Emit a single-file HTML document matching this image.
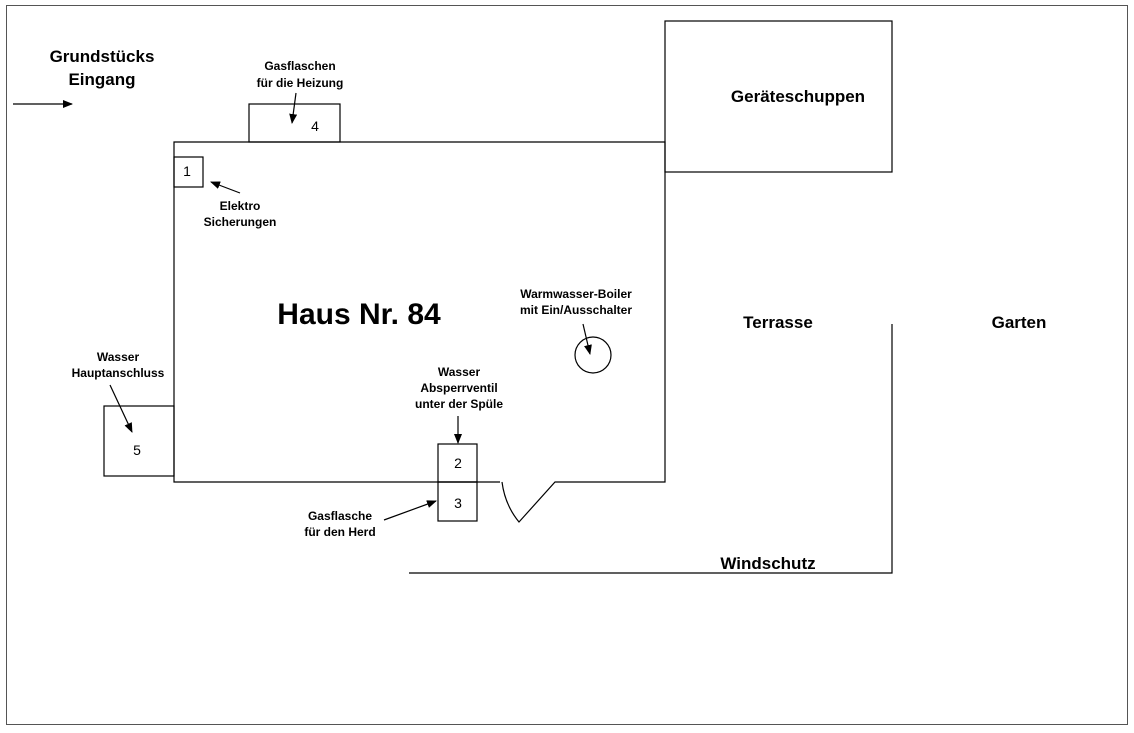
<!DOCTYPE html>
<html><head><meta charset="utf-8"><style>
body{margin:0;background:#fff;}
svg{display:block;font-family:"Liberation Sans",sans-serif;}
.s{font-size:12px;font-weight:bold;text-anchor:middle;}
.m{font-size:17px;font-weight:bold;}
.n{font-size:14px;text-anchor:middle;}
</style></head><body>
<svg width="1134" height="733" viewBox="0 0 1134 733">
<defs><marker id="a" markerWidth="10" markerHeight="8" refX="9" refY="4" orient="auto" markerUnits="userSpaceOnUse"><path d="M0,0 L10,4 L0,8 z" fill="#000"/></marker></defs>
<rect x="6.5" y="5.5" width="1121" height="719" fill="none" stroke="#555" stroke-width="1"/>
<g fill="none" stroke="#000" stroke-width="1.2">
<rect x="249" y="104" width="91" height="38"/>
<path d="M500,482 L174,482 L174,142 L665,142 L665,482 L555,482 L519,522 Q505,505 502,482"/>
<rect x="174" y="157" width="29" height="30"/>
<rect x="104" y="406" width="70" height="70"/>
<rect x="438" y="444" width="39" height="38"/>
<rect x="438" y="482" width="39" height="39"/>
<rect x="665" y="21" width="227" height="151"/>
<circle cx="593" cy="355" r="18"/>
<path d="M409,573 L892,573 L892,324"/>
<line x1="13" y1="104" x2="72" y2="104" marker-end="url(#a)"/>
<line x1="296" y1="93" x2="292" y2="123" marker-end="url(#a)"/>
<line x1="240" y1="193" x2="211" y2="182" marker-end="url(#a)"/>
<line x1="110" y1="385" x2="132" y2="432" marker-end="url(#a)"/>
<line x1="458" y1="416" x2="458" y2="443" marker-end="url(#a)"/>
<line x1="384" y1="520" x2="436" y2="501" marker-end="url(#a)"/>
<line x1="583" y1="324" x2="590" y2="354" marker-end="url(#a)"/>
</g>
<text x="102" y="62" class="m" text-anchor="middle">Grundstücks</text>
<text x="102" y="85" class="m" text-anchor="middle">Eingang</text>
<text x="300" y="70" class="s">Gasflaschen</text>
<text x="300" y="87" class="s">für die Heizung</text>
<text x="315" y="131" class="n">4</text>
<text x="187" y="176" class="n">1</text>
<text x="240" y="210" class="s">Elektro</text>
<text x="240" y="226" class="s">Sicherungen</text>
<text x="798" y="102" class="m" text-anchor="middle">Geräteschuppen</text>
<text x="359" y="324" font-size="30" font-weight="bold" text-anchor="middle">Haus Nr. 84</text>
<text x="576" y="298" class="s">Warmwasser-Boiler</text>
<text x="576" y="314" class="s">mit Ein/Ausschalter</text>
<text x="778" y="328" class="m" text-anchor="middle">Terrasse</text>
<text x="1019" y="328" class="m" text-anchor="middle">Garten</text>
<text x="118" y="361" class="s">Wasser</text>
<text x="118" y="377" class="s">Hauptanschluss</text>
<text x="137" y="455" class="n">5</text>
<text x="459" y="376" class="s">Wasser</text>
<text x="459" y="392" class="s">Absperrventil</text>
<text x="459" y="408" class="s">unter der Spüle</text>
<text x="458" y="468" class="n">2</text>
<text x="458" y="508" class="n">3</text>
<text x="340" y="520" class="s">Gasflasche</text>
<text x="340" y="536" class="s">für den Herd</text>
<text x="768" y="569" class="m" text-anchor="middle">Windschutz</text>
</svg>
</body></html>
